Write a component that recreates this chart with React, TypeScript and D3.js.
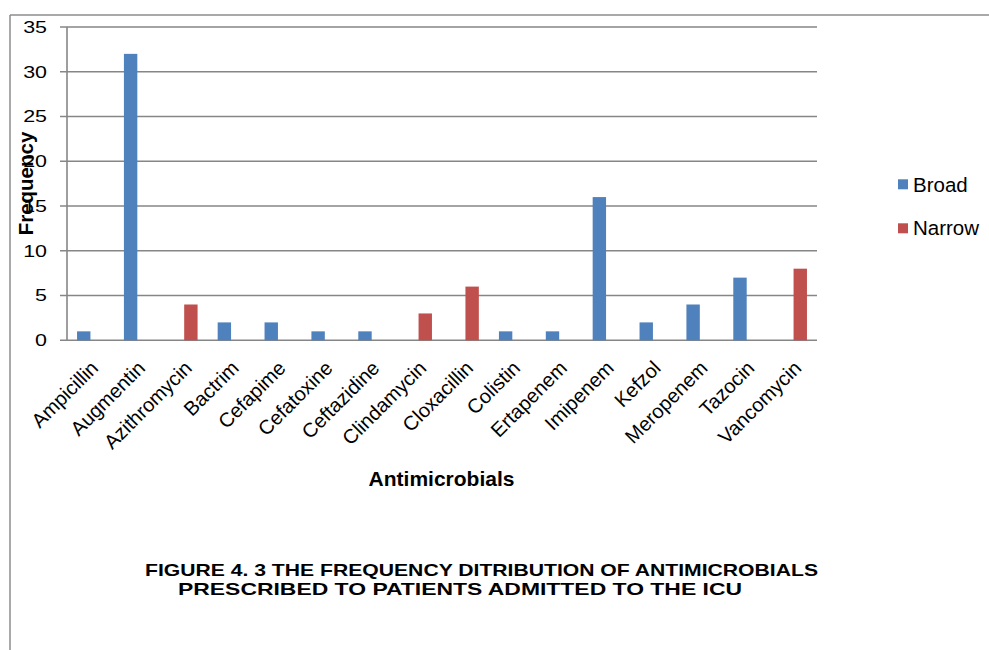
import React from "react";
import * as d3 from "d3";

const categories = ["Ampicillin","Augmentin","Azithromycin","Bactrim","Cefapime","Cefatoxine","Ceftazidine","Clindamycin","Cloxacillin","Colistin","Ertapenem","Imipenem","Kefzol","Meropenem","Tazocin","Vancomycin"];
const broad = [1,32,0,2,2,1,1,0,0,1,1,16,2,4,7,0];
const narrow = [0,0,4,0,0,0,0,3,6,0,0,0,0,0,0,8];
const yTicks = [0,5,10,15,20,25,30,35];
const seriesNames = ["Broad","Narrow"];
const colors = ["#4F81BD","#C0504D"];
const captionLines = ["FIGURE 4. 3 THE FREQUENCY DITRIBUTION OF ANTIMICROBIALS", "PRESCRIBED TO PATIENTS ADMITTED TO THE ICU"];

const W = 989, H = 650;
const left = 67, right = 817, top = 27, bottom = 340.3;
const font = "'Liberation Sans', Arial, sans-serif";

export default function App() {
  const x = d3.scaleBand<string>().domain(categories).range([left, right]).paddingInner(0).paddingOuter(0);
  const y = d3.scaleLinear().domain([0, 35]).range([bottom, top]);
  const bw = x.bandwidth() / 3.5;
  const series = [broad, narrow];
  const capX = [481.5, 460];
  const capY = [576, 595];
  const capLen = [673, 564];
  return (
    <svg width={W} height={H} style={{ position: "fixed", left: 0, top: 0, background: "#fff" }} fontFamily={font}>
      <rect x={0} y={0} width={W} height={H} fill="#fff" />
      <line x1={10} y1={15} x2={989} y2={15} stroke="#8c8c8c" strokeWidth={1.5} />
      <line x1={10} y1={15} x2={10} y2={650} stroke="#8c8c8c" strokeWidth={1.5} />
      {yTicks.map(t => (
        <g key={t}>
          <line x1={left - 7} x2={right} y1={y(t)} y2={y(t)} stroke="#868686" strokeWidth={1.6} />
          <text transform={`translate(47,${y(t)}) scale(1.3,1)`} dy="0.36em" textAnchor="end" fontSize={16.5} fill="#000">{t}</text>
        </g>
      ))}
      <line x1={left} x2={left} y1={top} y2={bottom} stroke="#868686" strokeWidth={1.6} />
      {categories.map((c, i) => {
        const cx = (x(c) as number) + x.bandwidth() / 2;
        return (
          <g key={c}>
            {series.map((s, k) => s[i] > 0 ? (
              <rect key={k} x={cx - bw + k * bw} y={y(s[i])} width={bw} height={bottom - y(s[i])} fill={colors[k]} />
            ) : null)}
            <text transform={`translate(${cx + 9},${bottom + 29}) rotate(-45)`} textAnchor="end" fontSize={20} fill="#000">{c}</text>
          </g>
        );
      })}
      <text transform={`translate(33,183.5) rotate(-90)`} textAnchor="middle" fontSize={20.5} fontWeight="bold" fill="#000">Frequency</text>
      <text x={441.5} y={486} textAnchor="middle" fontSize={21} fontWeight="bold" fill="#000">Antimicrobials</text>
      {seriesNames.map((n, k) => (
        <g key={n}>
          <rect x={898} y={179.3 + k * 44} width={10} height={10} fill={colors[k]} />
          <text x={913} y={191.7 + k * 43.5} fontSize={20.5} fill="#000">{n}</text>
        </g>
      ))}
      {captionLines.map((l, k) => (
        <text key={k} x={capX[k]} y={capY[k]} textAnchor="middle" fontSize={16.5} fontWeight="bold" fill="#000" textLength={capLen[k]} lengthAdjust="spacingAndGlyphs">{l}</text>
      ))}
    </svg>
  );
}
